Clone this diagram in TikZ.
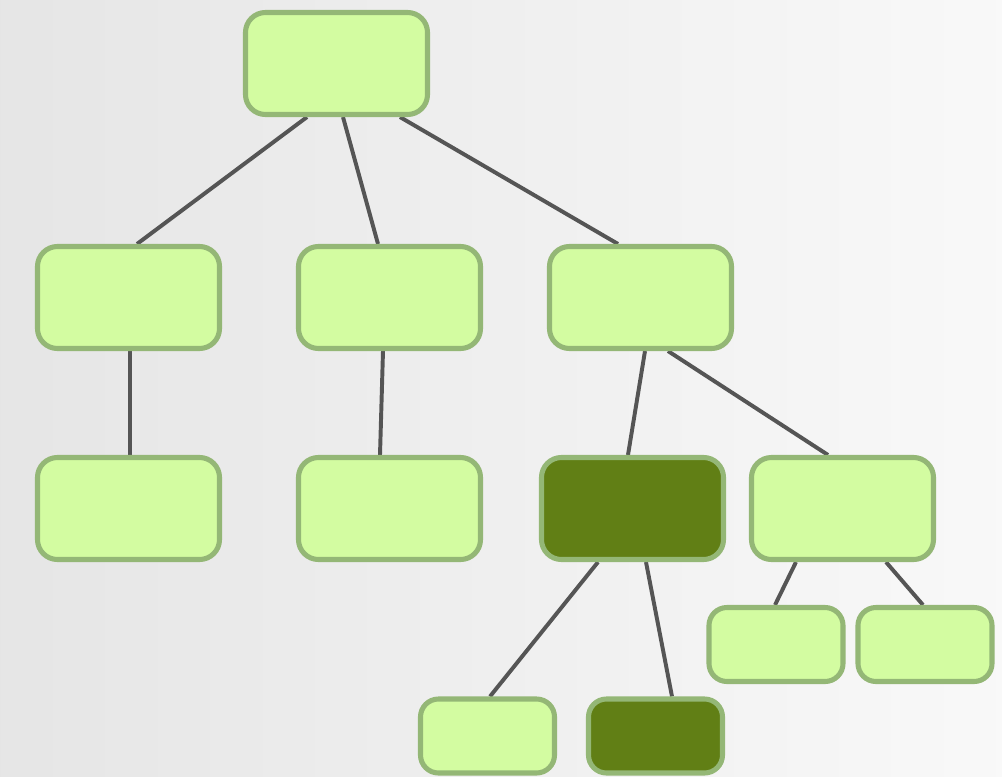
\documentclass[tikz,border=0pt]{standalone}
\usepackage{tikz}
\usetikzlibrary{calc,backgrounds}
\definecolor{leaf}{HTML}{D3FCA1}
\definecolor{leafline}{HTML}{94B776}
\definecolor{moss}{HTML}{617F15}
\definecolor{twig}{HTML}{555555}

\begin{document}
\begin{tikzpicture}[x=0.025cm, y=-0.025cm,
    box/.style={draw=leafline, line width=3.6pt, rounded corners=0.5cm, fill=leaf,
      minimum width=4.55cm, minimum height=2.55cm, inner sep=0pt},
    darkbox/.style={box, fill=moss},
    smallbox/.style={box, rounded corners=0.45cm, minimum width=3.35cm, minimum height=1.85cm},
    branch/.style={draw=twig, line width=2.8pt}]
    \useasboundingbox (0,0) rectangle (1002,777);
    % tree boxes
    \node[box] (root) at (336.5,63.5) {};
    \node[box] (left) at (128.5,297.5) {};
    \node[box] (mid) at (389.5,297.5) {};
    \node[box] (right) at (640.5,297.5) {};
    \node[box] (leftleaf) at (128.5,508.5) {};
    \node[box] (midleaf) at (389.5,508.5) {};
    \node[darkbox] (pick) at (632.5,508.5) {};
    \node[box] (rest) at (842.5,508.5) {};
    \node[smallbox] (restA) at (776,644.5) {};
    \node[smallbox] (restB) at (925,644.5) {};
    \node[smallbox] (pickA) at (487.5,736) {};
    \node[smallbox, fill=moss] (pickB) at (655.5,736) {};
    \begin{pgfonlayer}{background}
      \shade[left color=gray!20, right color=gray!5] (0,0) rectangle (1002,777);
      \draw[branch] ($(root.south)+(-29.5,0)$) -- ($(left.north)+(8.5,0)$);
      \draw[branch] ($(root.south)+(6.5,0)$) -- ($(mid.north)+(-11.5,0)$);
      \draw[branch] ($(root.south)+(63.5,0)$) -- ($(right.north)+(-22.5,0)$);
      \draw[branch] ($(left.south)+(1.5,0)$) -- ($(leftleaf.north)+(1.5,0)$);
      \draw[branch] ($(mid.south)+(-6.5,0)$) -- ($(midleaf.north)+(-9.5,0)$);
      \draw[branch] ($(right.south)+(4.5,0)$) -- ($(pick.north)+(-4.5,0)$);
      \draw[branch] ($(right.south)+(27.5,0)$) -- ($(rest.north)+(-14.5,0)$);
      \draw[branch] ($(pick.south)+(-34.5,0)$) -- ($(pickA.north)+(2.5,0)$);
      \draw[branch] ($(pick.south)+(13.5,0)$) -- ($(pickB.north)+(16.5,0)$);
      \draw[branch] ($(rest.south)+(-46.5,0)$) -- ($(restA.north)+(-1,0)$);
      \draw[branch] ($(rest.south)+(43.5,0)$) -- ($(restB.north)+(-2,0)$);
    \end{pgfonlayer}
\end{tikzpicture}
\end{document}
